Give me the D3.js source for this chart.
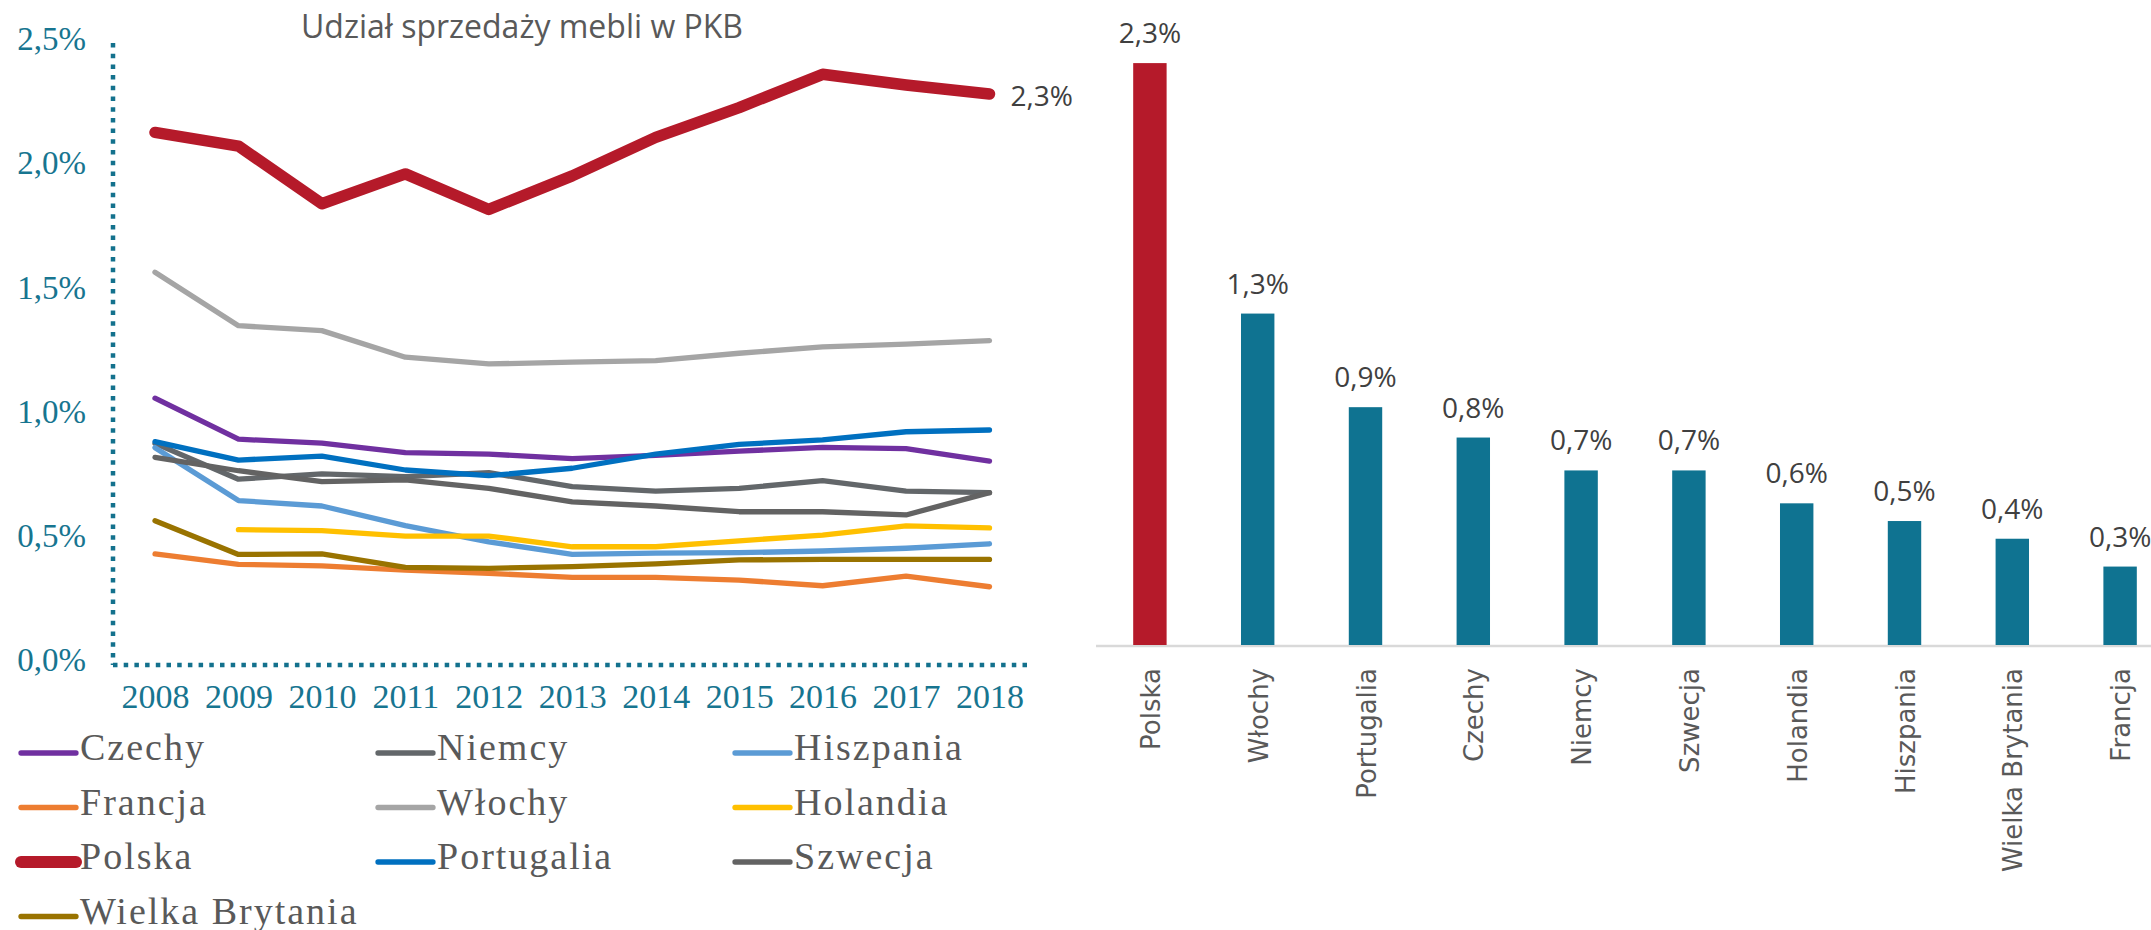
<!DOCTYPE html>
<html>
<head>
<meta charset="utf-8">
<style>
    body { margin: 0; background: #fff; }
    .yax text, .xax text {
        fill: #177590;
        font-family: "Liberation Serif", serif;
        font-size: 33px;
    }
    .xax text { font-size: 34px; }
    .dotted {
        stroke: #13718d;
        stroke-width: 4.5;
        stroke-dasharray: 4.5 6.2;
        fill: none;
    }
    .title {
        fill: #595959;
        font-family: "Open Sans", sans-serif;
        font-size: 32px;
    }
    .legend text {
        fill: #595959;
        font-family: "Liberation Serif", serif;
        font-size: 38px;
        letter-spacing: 2px;
    }
    .val {
        fill: #404040;
        font-family: "Open Sans", sans-serif;
        font-size: 28px;
    }
    .cat {
        fill: #595959;
        font-family: "DejaVu Sans", sans-serif;
        font-size: 26px;
    }
</style>
</head>
<body>
<svg width="2151" height="930"></svg>
<script src="https://cdn.jsdelivr.net/npm/d3@7"></script>
<script>

// --- data: line chart (udział w PKB, %)
var years = [2008, 2009, 2010, 2011, 2012, 2013, 2014, 2015, 2016, 2017, 2018];
var czechy     = [1.07, 0.905, 0.889, 0.851, 0.845, 0.827, 0.84, 0.857, 0.872, 0.867, 0.817];
var niemcy     = [0.888, 0.744, 0.765, 0.754, 0.77, 0.714, 0.696, 0.707, 0.738, 0.696, 0.69];
var hiszpania  = [0.871, 0.658, 0.636, 0.557, 0.492, 0.441, 0.446, 0.448, 0.455, 0.466, 0.484];
var francja    = [0.443, 0.401, 0.395, 0.378, 0.365, 0.349, 0.349, 0.338, 0.315, 0.354, 0.311];
var wlochy     = [1.577, 1.362, 1.342, 1.235, 1.208, 1.215, 1.221, 1.251, 1.277, 1.288, 1.302];
var holandia   = [null, 0.541, 0.537, 0.515, 0.515, 0.472, 0.472, 0.496, 0.519, 0.556, 0.548];
var polska     = [2.14, 2.085, 1.853, 1.973, 1.83, 1.965, 2.12, 2.24, 2.374, 2.331, 2.295];
var portugalia = [0.895, 0.821, 0.837, 0.781, 0.758, 0.788, 0.845, 0.884, 0.902, 0.935, 0.942];
var szwecja    = [0.832, 0.778, 0.734, 0.741, 0.707, 0.653, 0.636, 0.613, 0.613, 0.6, 0.69];
var wielkaBrytania = [0.577, 0.441, 0.443, 0.389, 0.385, 0.392, 0.403, 0.419, 0.421, 0.421, 0.421];
var yTicks = [0, 0.5, 1, 1.5, 2, 2.5];

// --- data: bar chart
var barCountries = ["Polska", "Włochy", "Portugalia", "Czechy", "Niemcy", "Szwecja", "Holandia", "Hiszpania", "Wielka Brytania", "Francja"];
var barValues = [2.30, 1.31, 0.94, 0.82, 0.69, 0.69, 0.56, 0.49, 0.42, 0.31];

var series = [
    {name: "Czechy", values: czechy, color: "#7030a0"},
    {name: "Niemcy", values: niemcy, color: "#63676a"},
    {name: "Hiszpania", values: hiszpania, color: "#5b9bd5"},
    {name: "Francja", values: francja, color: "#ed7d31"},
    {name: "Włochy", values: wlochy, color: "#a5a5a5"},
    {name: "Holandia", values: holandia, color: "#ffc000"},
    {name: "Polska", values: polska, color: "#b51a2a", thick: true},
    {name: "Portugalia", values: portugalia, color: "#0070c0"},
    {name: "Szwecja", values: szwecja, color: "#636363"},
    {name: "Wielka Brytania", values: wielkaBrytania, color: "#997300"}
];

var pct = function(v) { return d3.format(".1f")(v).replace(".", ",") + "%"; };

var svg = d3.select("svg");

// ================= left: line chart =================
var x = d3.scalePoint().domain(years).range([155, 989.5]);
var y = d3.scaleLinear().domain([0, 2.5]).range([664, 43]);

svg.append("text")
    .attr("class", "title")
    .attr("x", 522)
    .attr("y", 38)
    .attr("text-anchor", "middle")
    .text("Udział sprzedaży mebli w PKB");

// dotted axes
svg.append("line").attr("class", "dotted")
    .attr("x1", 113).attr("x2", 113).attr("y1", 43).attr("y2", 665);
svg.append("line").attr("class", "dotted")
    .attr("x1", 113).attr("x2", 1031).attr("y1", 665).attr("y2", 665);

var yAxis = svg.append("g")
    .attr("class", "yax")
    .attr("transform", "translate(113,0)")
    .call(d3.axisLeft(y).tickValues(yTicks).tickSize(0).tickPadding(27).tickFormat(pct));
yAxis.select(".domain").remove();
yAxis.selectAll("text").attr("dy", "0.2em");

var xAxis = svg.append("g")
    .attr("class", "xax")
    .attr("transform", "translate(0,665)")
    .call(d3.axisBottom(x).tickSize(0).tickPadding(19).tickFormat(d3.format("d")));
xAxis.select(".domain").remove();

var line = d3.line()
    .defined(function(d) { return d != null; })
    .x(function(d, i) { return x(years[i]); })
    .y(function(d) { return y(d); });

svg.append("g").selectAll("path")
    .data(series)
    .enter().append("path")
      .attr("fill", "none")
      .attr("stroke", function(d) { return d.color; })
      .attr("stroke-width", function(d) { return d.thick ? 11.5 : 5.3; })
      .attr("stroke-linecap", "round")
      .attr("stroke-linejoin", "round")
      .attr("d", function(d) { return line(d.values); });

svg.append("text")
    .attr("class", "val")
    .attr("x", x(2018) + 21)
    .attr("y", y(polska[polska.length - 1]) + 12)
    .text(pct(polska[polska.length - 1]));

// legend
var legend = svg.append("g").attr("class", "legend")
    .selectAll("g")
    .data(series)
    .enter().append("g")
      .attr("transform", function(d, i) {
          return "translate(" + (21 + (i % 3) * 357) + "," + (753 + Math.floor(i / 3) * 54.5) + ")";
      });

legend.append("line")
    .attr("x1", 0)
    .attr("x2", 55)
    .attr("stroke", function(d) { return d.color; })
    .attr("stroke-width", function(d) { return d.thick ? 12 : 5.3; })
    .attr("stroke-linecap", "round");

legend.append("text")
    .attr("x", 59)
    .attr("y", 7)
    .text(function(d) { return d.name; });

// ================= right: bar chart =================
var xb = d3.scaleBand()
    .domain(barCountries)
    .range([1096, 2174])
    .paddingInner(0.69)
    .paddingOuter(0.345);

var yb = d3.scaleLinear().domain([0, 2.5]).range([645, 12.5]);

svg.append("line")
    .attr("x1", 1096).attr("x2", 2151)
    .attr("y1", 646).attr("y2", 646)
    .attr("stroke", "#d9d9d9")
    .attr("stroke-width", 2.3);

svg.append("g").selectAll("rect")
    .data(barValues)
    .enter().append("rect")
      .attr("x", function(d, i) { return xb(barCountries[i]); })
      .attr("width", xb.bandwidth())
      .attr("y", function(d) { return yb(d); })
      .attr("height", function(d) { return yb(0) - yb(d); })
      .attr("fill", function(d, i) { return i === 0 ? "#b51a2a" : "#0f7391"; });

svg.append("g").selectAll("text")
    .data(barValues)
    .enter().append("text")
      .attr("class", "val")
      .attr("text-anchor", "middle")
      .attr("x", function(d, i) { return xb(barCountries[i]) + xb.bandwidth() / 2; })
      .attr("y", function(d) { return yb(d) - 20; })
      .text(pct);

svg.append("g").selectAll("text")
    .data(barCountries)
    .enter().append("text")
      .attr("class", "cat")
      .attr("text-anchor", "end")
      .attr("transform", function(d) {
          return "translate(" + (xb(d) + xb.bandwidth() / 2 + 10) + ",668) rotate(-90)";
      })
      .text(function(d) { return d; });

</script>
</body>
</html>
